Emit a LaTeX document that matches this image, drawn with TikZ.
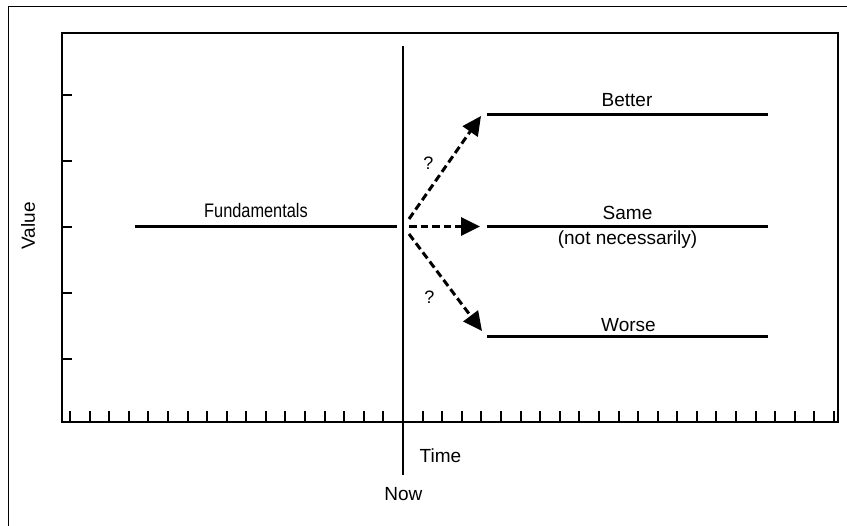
\documentclass[tikz,border=0pt]{standalone}
\usepackage{fontspec}
\usepackage{graphicx}
\setmainfont{Liberation Sans}
\usetikzlibrary{arrows.meta}
\tikzset{
  frame/.style={line width=2.6pt},
  tick/.style={line width=2pt},
  level/.style={line width=3pt},
  nowline/.style={line width=2.2pt},
  guess/.style={line width=3pt, dash pattern=on 7.5pt off 4pt,
    -{Triangle[length=19pt,width=18pt]}},
  lbl/.style={inner sep=0pt, font=\fontsize{19}{22}\selectfont},
  qlbl/.style={inner sep=0pt, font=\fontsize{18}{21}\selectfont},
}
\begin{document}
\begin{tikzpicture}[x=1pt,y=-1pt]
\useasboundingbox (0,0) rectangle (847,526);
% outer border
\coordinate (ob1) at (8,526);
\coordinate (ob2) at (8,6);
\coordinate (ob3) at (847,6);
\draw[line width=0.8pt] (ob1) -- (ob2) -- (ob3);
% frame
\coordinate (fTL) at (62,33);
\coordinate (fBR) at (838,422);
\draw[frame] (fTL) rectangle (fBR);
% left ticks
\foreach \y in {95,161,227,293,359}
  \draw[tick] (62,\y) -- (72,\y);
% bottom ticks
\foreach \i in {0,...,39}
  \draw[tick] ({70+\i*19.59},422) -- ({70+\i*19.59},411.5);
% Now line
\coordinate (nowtop) at (403,46);
\coordinate (nowbot) at (403,475);
\draw[nowline] (nowtop) -- (nowbot);
% axis labels
\node[lbl, rotate=90] (value) at (28,226) {Value};
\node[lbl] (time) at (440.5,456) {Time};
\node[lbl] (now) at (403.3,494.5) {Now};
% levels
\coordinate (fa) at (135,227);
\coordinate (fb) at (397,227);
\draw[level] (fa) -- (fb);
\node[lbl, anchor=base] (fund) at (256,218) {\scalebox{0.86}[1.03]{Fundamentals}};
\coordinate (ba) at (487,114.5);
\coordinate (bb) at (768,114.5);
\draw[level] (ba) -- (bb);
\node[lbl, anchor=base] (better) at (627,106.5) {Better};
\coordinate (sa) at (487,226.5);
\coordinate (sb) at (768,226.5);
\draw[level] (sa) -- (sb);
\node[lbl, anchor=base] (same) at (627.5,220) {Same};
\node[lbl] (notnec) at (627.5,240) {(not necessarily)};
\coordinate (wa) at (487,337);
\coordinate (wb) at (768,337);
\draw[level] (wa) -- (wb);
\node[lbl, anchor=base] (worse) at (628.5,331.5) {Worse};
% arrows
\coordinate (s1) at (409,219);
\coordinate (t1) at (481,116);
\coordinate (s2) at (409,226.5);
\coordinate (t2) at (480,226.5);
\coordinate (s3) at (409,234);
\coordinate (t3) at (482,331);
\draw[guess] (s1) -- (t1);
\draw[guess] (s2) -- (t2);
\draw[guess] (s3) -- (t3);
\node[qlbl] (q1) at (428.5,163.5) {?};
\node[qlbl] (q2) at (429.5,297) {?};
\end{tikzpicture}
\end{document}
